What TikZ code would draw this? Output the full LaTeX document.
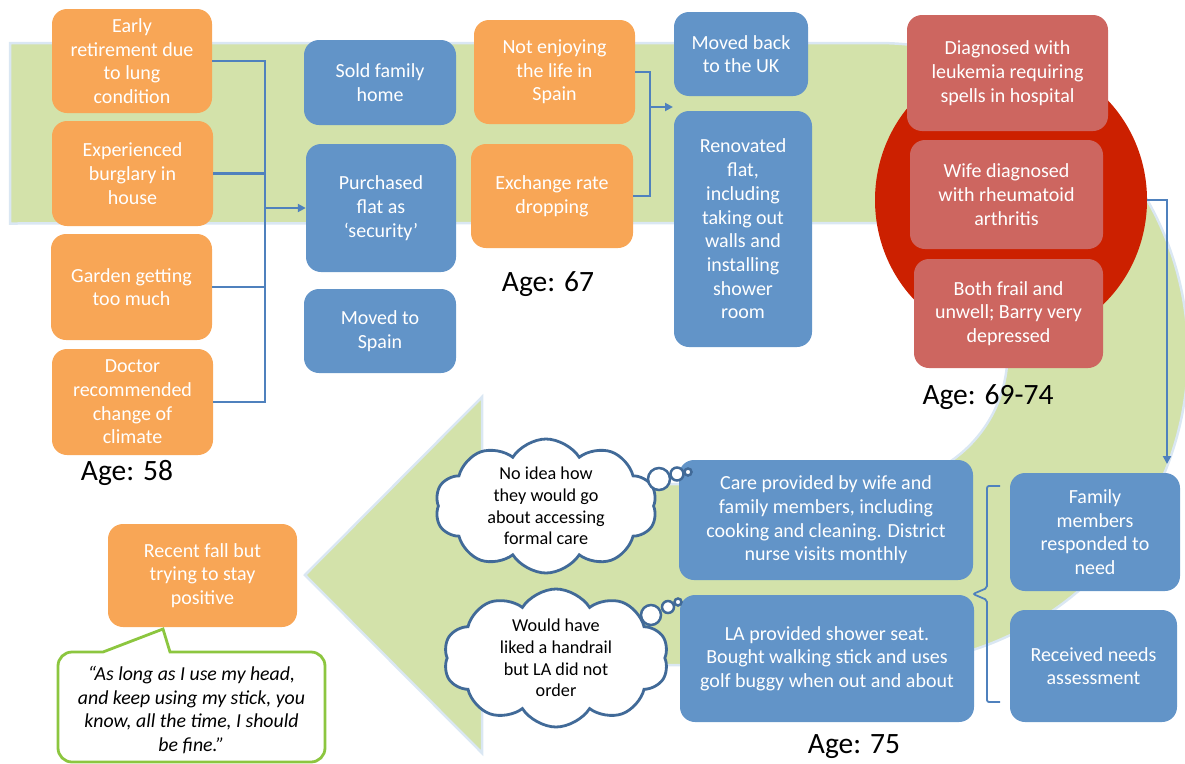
\documentclass[tikz,border=0pt]{standalone}
\usepackage{fontspec}
\setmainfont{Carlito}
\usetikzlibrary{shapes.symbols,shapes.geometric,arrows.meta}
\definecolor{gfill}{RGB}{211,226,170}
\definecolor{gedge}{RGB}{218,231,243}
\definecolor{ora}{RGB}{248,166,86}
\definecolor{blu}{RGB}{98,148,200}
\definecolor{redbox}{RGB}{205,102,96}
\definecolor{redcirc}{RGB}{204,32,0}
\definecolor{cloudblue}{RGB}{65,106,152}
\definecolor{connblue}{RGB}{79,129,189}
\definecolor{qgreen}{RGB}{140,198,63}
\newcommand\mybox[7]{\node[#1, minimum width={(#5-#3)*1pt}, minimum height={(#6-#4)*1pt}] (#2) at ({(#3+#5)/2},{(#4+#6)/2}) {#7};}
\tikzset{
  base/.style={rounded corners=15pt, inner sep=0pt, align=center, text=white, font=\fontsize{20}{23.7}\selectfont},
  obox/.style={base, fill=ora},
  bbox/.style={base, fill=blu},
  rbox/.style={base, fill=redbox},
  agelabel/.style={font=\fontsize{29.5}{31}\selectfont, text=black, inner sep=0pt},
  conn/.style={draw=connblue, line width=2.2pt},
  arr/.style={conn, -{Triangle[length=8pt,width=8pt]}},
  thought/.style={cloud, cloud puffs=10, cloud puff arc=115, cloud ignores aspect, draw=cloudblue, line width=2.8pt, fill=white, align=center, inner sep=0pt, font=\fontsize{18.2}{21.8}\selectfont},
  bubble/.style={draw=cloudblue, line width=2.5pt, fill=white},
}
\begin{document}
\begin{tikzpicture}[x=1pt,y=-1pt]
\useasboundingbox (0,0) rectangle (1185,763);
% green U-turn arrow
\draw[fill=gfill, draw=gedge, line width=2.5pt]
  (10,43) -- (877,43) arc[start angle=90, end angle=-90, radius=311pt]
  -- (482,665) -- (482,753) -- (305,575) -- (482,397) -- (482,484)
  -- (877,484) arc[start angle=-90, end angle=90, radius=130.5pt]
  -- (10,223.5) -- cycle;
% red circle
\node[ellipse, fill=redcirc, minimum width=272pt, minimum height=284pt, inner sep=0pt] (rc) at (1011,200) {};
% Age 58 column
\mybox{obox}{n1}{52}{9}{212}{113}{Early\\retirement due\\to lung\\condition}
\mybox{obox}{n2}{52}{121}{213}{226}{Experienced\\burglary in\\house}
\mybox{obox}{n3}{51}{234}{212}{340}{Garden getting\\too much}
\mybox{obox}{n4}{52}{349}{213}{455}{Doctor\\recommended\\change of\\climate}
\node[agelabel] (a58) at (127,473) {Age: 58};
\mybox{bbox}{n5}{304}{40}{456}{125}{Sold family\\home}
\mybox{bbox}{n6}{306}{144}{456}{272}{Purchased\\flat as\\‘security’}
\mybox{bbox}{n7}{304}{289}{456}{373}{Moved to\\Spain}
% Age 67
\mybox{obox}{n8}{474}{20}{635}{124}{Not enjoying\\the life in\\Spain}
\mybox{obox}{n9}{471}{144}{633}{248}{Exchange rate\\dropping}
\node[agelabel] (a67) at (548,284) {Age: 67};
\mybox{bbox}{n10}{674}{12}{808}{96}{Moved back\\to the UK}
\mybox{bbox}{n11}{674}{111}{812}{347}{Renovated\\flat,\\including\\taking out\\walls and\\installing\\shower\\room}
% Age 69-74
\mybox{rbox}{n12}{907}{15}{1108}{131}{Diagnosed with\\leukemia requiring\\spells in hospital}
\mybox{rbox}{n13}{910}{140}{1103}{249}{Wife diagnosed\\with rheumatoid\\arthritis}
\mybox{rbox}{n14}{914}{259}{1103}{368}{Both frail and\\unwell; Barry very\\depressed}
\node[agelabel] (a6974) at (988,397) {Age: 69-74};
% Age 75
\mybox{bbox}{n15}{1010}{473}{1180}{591}{Family\\members\\responded to\\need}
\mybox{bbox}{n16}{1010}{610}{1177}{722}{Received needs\\assessment}
\mybox{bbox}{n17}{679}{460}{973}{580}{Care provided by wife and\\family members, including\\cooking and cleaning. District\\nurse visits monthly}
\mybox{bbox}{n18}{680}{595}{974}{722}{LA provided shower seat.\\Bought walking stick and uses\\golf buggy when out and about}
\node[agelabel] (a75) at (854,747) {Age: 75};
% thought clouds
\node[thought, minimum width=222pt, minimum height=134pt] (c1) at (546,506) {No idea how\\they would go\\about accessing\\formal care};
\draw[bubble] (659,479) circle[radius=11pt];
\draw[bubble] (677,474) circle[radius=6.5pt];
\draw[bubble] (688,472) circle[radius=3.5pt];
\node[thought, minimum width=225pt, minimum height=138pt] (c2) at (556,658) {Would have\\liked a handrail\\but LA did not\\order};
\draw[bubble] (651,615) circle[radius=10pt];
\draw[bubble] (668,607) circle[radius=6pt];
\draw[bubble] (678,602) circle[radius=3.5pt];
% final box and quote
\mybox{obox}{n19}{108}{524}{297}{627}{Recent fall but\\trying to stay\\positive}
\draw[draw=qgreen, fill=white, line width=2.8pt]
  (103,652) -- (163,629) -- (170,652) -- (311,652) arc[start angle=90, end angle=0, radius=14pt]
  -- (325,748) arc[start angle=0, end angle=-90, radius=14pt]
  -- (72,762) arc[start angle=-90, end angle=-180, radius=14pt]
  -- (58,666) arc[start angle=180, end angle=90, radius=14pt] -- cycle;
\node[align=center, inner sep=0pt, font=\fontsize{19.8}{23.5}\selectfont\itshape] (q) at (191.5,710) {“As long as I use my head,\\and keep using my stick, you\\know, all the time, I should\\be fine.”};
% connectors
\coordinate (j1) at (265,208);
\draw[conn] (n1.east) -| (j1);
\draw[conn] (n2.east) -| (j1);
\draw[conn] (n3.east) -| (j1);
\draw[conn] (n4.east) -| (j1);
\draw[arr] (j1) -- (n6.west);
\coordinate (j2) at (650,107);
\coordinate (t2) at (673,107);
\draw[conn] (n8.east) -| (j2);
\draw[conn] (n9.east) -| (j2);
\draw[arr] (j2) -- (t2);
\coordinate (t3) at (1167,464);
\draw[arr] (rc.east) -| (t3);
% brace
\draw[conn, line width=1.8pt, rounded corners=2pt] (1000,486) -- (987,486) -- (987,588) -- (973,594) -- (987,600) -- (987,702) -- (1000,702);
\end{tikzpicture}
\end{document}
